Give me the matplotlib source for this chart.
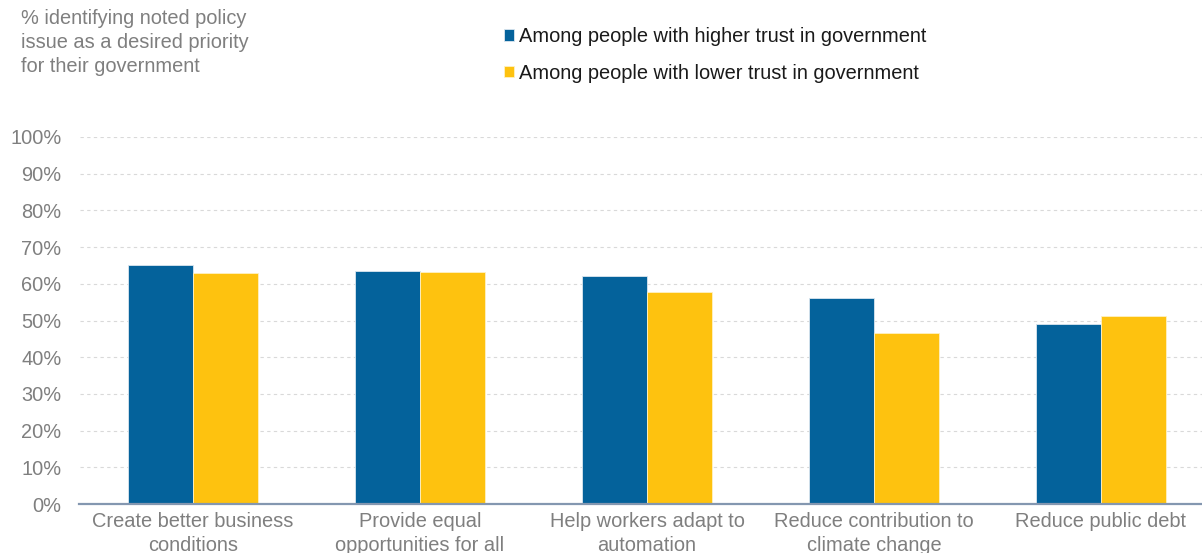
import numpy as np
import matplotlib.pyplot as plt
from matplotlib.ticker import PercentFormatter

plt.rcParams['font.family'] = ['Liberation Sans', 'DejaVu Sans']

categories = [
    'Create better business\nconditions',
    'Provide equal\nopportunities for all',
    'Help workers adapt to\nautomation',
    'Reduce contribution to\nclimate change',
    'Reduce public debt',
]
higher_trust = [65.0, 63.5, 62.0, 56.0, 49.0]
lower_trust = [63.0, 63.2, 57.8, 46.5, 51.1]
series_labels = ['Among people with higher trust in government',
                 'Among people with lower trust in government']

BLUE = '#04629b'
YELLOW = '#fec20f'
GREY = '#7f7f7f'
FS = 14.4

fig = plt.figure(figsize=(12.02, 5.53), dpi=100)
ax = fig.add_axes([79.5 / 1202, 49 / 553, 1 - 79.5 / 1202, (504 - 137) / 553])

x = np.arange(len(categories))
w = 0.286
b1 = ax.bar(x - w / 2, higher_trust, w, color=BLUE, edgecolor='#dbe6ef', linewidth=0.6,
            label=series_labels[0], zorder=3)
b2 = ax.bar(x + w / 2, lower_trust, w, color=YELLOW, edgecolor='#fff1c4', linewidth=0.6,
            label=series_labels[1], zorder=3)

ax.set_xlim(-0.5, 4.445)
ax.set_ylim(0, 100)
ax.set_yticks(range(0, 101, 10))
ax.yaxis.set_major_formatter(PercentFormatter(decimals=0))
ax.set_xticks(x)
ax.set_xticklabels(categories, linespacing=1.3)

ax.tick_params(axis='both', length=0, labelsize=FS, labelcolor=GREY)
ax.tick_params(axis='y', pad=13)
ax.tick_params(axis='x', pad=6)

ax.grid(axis='y', color='#d9d9d9', linestyle=(0, (3, 3)), linewidth=0.8, zorder=0)
for s in ['top', 'right', 'left']:
    ax.spines[s].set_visible(False)
ax.spines['bottom'].set_color('#8497b0')
ax.spines['bottom'].set_linewidth(1.6)
ax.spines['bottom'].set_zorder(4)

fig.text(21 / 1202, 1 - 9 / 553,
         '% identifying noted policy\nissue as a desired priority\nfor their government',
         fontsize=FS, color=GREY, va='top', ha='left', linespacing=1.32)

fig.legend(handles=[b1, b2], loc='upper left', bbox_to_anchor=(504 / 1202, 1 - 27 / 553),
           frameon=False, fontsize=FS, handlelength=0.5, handleheight=0.5,
           handletextpad=0.25, labelspacing=0.88, borderpad=0, borderaxespad=0,
           labelcolor='#1a1a1a')

fig.savefig('out.png', dpi=100)
